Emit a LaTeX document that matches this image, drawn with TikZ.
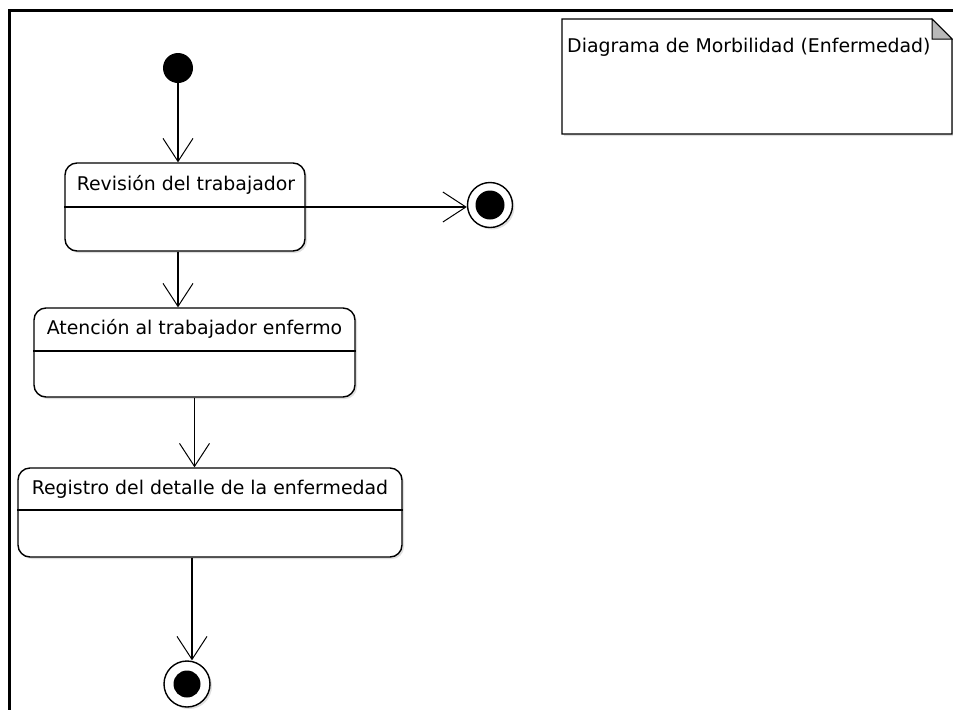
\documentclass[tikz,border=0pt]{standalone}
\usepackage{fontspec}
\setmainfont{DejaVu Sans}
\usetikzlibrary{arrows.meta,shadows,calc}
\begin{document}
\begin{tikzpicture}[x=1pt,y=-1pt,
  shad/.style={drop shadow={opacity=0.25,shadow xshift=2pt,shadow yshift=-2pt}},
  state/.style={draw,line width=1.4pt,rounded corners=12pt,fill=white,inner sep=0pt,shad},
  lbl/.style={font=\fontsize{18.9}{22}\selectfont,inner sep=0pt,anchor=center},
  tr/.style={line width=1.4pt,-{Straight Barb[length=23pt,width=30pt,line width=1pt]}},
  endst/.style={circle,draw,line width=1.4pt,fill=white,inner sep=0pt,minimum size=45pt,shad},
  ]
\useasboundingbox (0,0) rectangle (953,710);
% frame
\draw[line width=3pt] (953,10.5) -- (9,10.5) -- (9,710);
% note
\draw[line width=1.4pt,fill=white,shad] (562,19) -- (932,19) -- (952,39) -- (952,134) -- (562,134) -- cycle;
\draw[line width=1pt,fill=gray!55] (932,19) -- (932,39) -- (952,39) -- cycle;
\node[lbl,anchor=west] (nt) at (567,47) {Diagrama de Morbilidad (Enfermedad)};
% initial
\node[circle,fill=black,inner sep=0pt,minimum size=30pt] (init) at (178,68) {};
% states
\node[state,minimum width=240pt,minimum height=88pt] (s1) at (185,207) {};
\draw[line width=1.4pt] (s1.west) -- (s1.east);
\node[lbl] (t1) at (186,185) {Revisión del trabajador};
\node[state,minimum width=321pt,minimum height=89pt] (s2) at (194.5,352.5) {};
\draw[line width=1.4pt] (s2.west |- 0,351) -- (s2.east |- 0,351);
\node[lbl] (t2) at (194.5,329) {Atención al trabajador enfermo};
\node[state,minimum width=384pt,minimum height=89pt] (s3) at (210,512.5) {};
\draw[line width=1.4pt] (s3.west |- 0,510) -- (s3.east |- 0,510);
\node[lbl] (t3) at (210,489) {Registro del detalle de la enfermedad};
% finals
\node[endst] (fin1) at (490,205) {};
\fill (fin1) circle (14.5pt);
\node[endst,minimum size=46pt] (fin2) at (187,684) {};
\fill (fin2) circle (13.5pt);
% transitions
\draw[tr] (init.south) -- (init.south |- s1.north);
\draw[tr] (s1.east) -- (fin1.west |- s1.east);
\draw[tr] (s1.south -| init) -- (s2.north -| init);
\draw[tr] (s2.south) -- (s2.south |- s3.north);
\draw[tr] ([xshift=-18pt]s3.south) -- ([xshift=-18pt]s3.south |- fin2.north);
\end{tikzpicture}
\end{document}
